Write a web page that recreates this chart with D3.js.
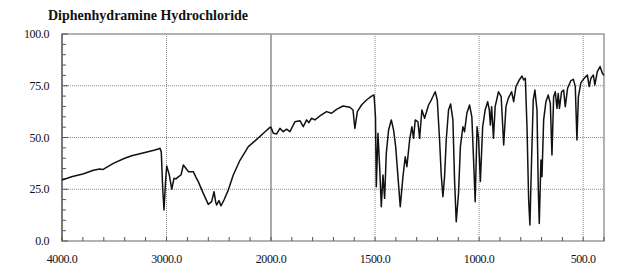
<!DOCTYPE html>
<html>
<head>
<meta charset="utf-8">
<script src="https://cdn.jsdelivr.net/npm/d3@7"></script>
<style>
  body { margin: 0; background: #fff; }
  text { font-family: "Liberation Serif", "DejaVu Serif", serif; fill: #111; }
</style>
</head>
<body>
<div id="spectrum"></div>
<script>
// Spectrum values (wavenumber in cm-1, transmittance in %)
const wavenumbers = [
    4000, 3900, 3800, 3700, 3640, 3610, 3509, 3400, 3333, 3206, 3120, 3078, 3062, 3050, 3036, 3024, 3010, 2998,
    2985, 2973, 2950, 2928, 2910, 2887, 2860, 2839, 2820, 2791, 2744, 2720, 2696, 2648, 2600, 2568, 2545, 2530,
    2520, 2498, 2479, 2450, 2409, 2361, 2297, 2217, 2137, 2057, 2010, 2000, 1989, 1973, 1957, 1941, 1925, 1909,
    1885, 1861, 1845, 1829, 1818, 1805, 1789, 1765, 1733, 1709, 1685, 1654, 1621, 1606, 1597, 1585, 1565, 1541,
    1517, 1505, 1498, 1494, 1486, 1478, 1470, 1462, 1454, 1446, 1435, 1422, 1411, 1401, 1390, 1379, 1366, 1355,
    1347, 1334, 1323, 1315, 1307, 1294, 1286, 1275, 1262, 1243, 1230, 1211, 1201, 1190, 1182, 1174, 1166, 1158,
    1147, 1137, 1126, 1118, 1110, 1099, 1090, 1078, 1070, 1059, 1046, 1035, 1026, 1019, 1010, 1003, 994, 983,
    971, 959, 951, 946, 940, 931, 923, 907, 894, 882, 871, 860, 844, 834, 823, 807, 794, 786, 778, 770, 762, 756,
    748, 740, 732, 722, 716, 711, 703, 698, 690, 679, 668, 658, 650, 642, 634, 626, 620, 614, 604, 594, 586, 575,
    559, 547, 538, 530, 523, 511, 495, 480, 471, 463, 451, 444, 432, 419, 408, 400
];
const transmittance = [
    29.5, 31.2, 32.4, 34.2, 34.8, 34.5, 37.5, 40, 41.2, 42.8, 43.8, 44.4, 44.8, 43, 25, 15, 28, 36.2,
    34, 31.9, 25.1, 30.3, 30, 31, 32, 36.7, 35.5, 33.5, 33.5, 31, 28.7, 23, 17.7, 19, 23.8, 19,
    17.4, 19.5, 17, 19.8, 24.6, 31.9, 39, 45.6, 49.1, 52.8, 54.9, 55, 52, 51.7, 54.4, 52.8, 54, 52.8,
    57.6, 58.1, 55.2, 58.5, 57.2, 59.3, 58.5, 60.4, 62.5, 61.7, 63.6, 65.2, 64.6, 63.3, 54.4, 62.5, 65.7, 68.1,
    70, 70.5, 60, 26.2, 52, 35.9, 16.6, 31.9, 20.6, 42.4, 53.6, 58.5, 53.6, 45.6, 31.1, 16.6, 31.1, 40.7,
    35.9, 48.8, 55.2, 49.6, 58.5, 57.6, 49.6, 63.3, 59.3, 65.7, 68.1, 72.1, 68.1, 48.8, 31.9, 21.4, 31.1, 48.8,
    63.3, 66.2, 58.5, 29.5, 9.3, 23, 45.6, 55.2, 52.8, 61.7, 65.7, 60, 37.5, 19, 55.2, 50, 28.7, 55.2,
    63.3, 67.3, 63.3, 56, 64.9, 49.6, 64.9, 72.1, 69.7, 46.4, 64.9, 68.9, 72.1, 67.3, 74.6, 77.8, 79.7, 77.8, 78.6, 55.2, 19.8, 7.7,
    39.1, 68.1, 72.9, 63.3, 26.2, 8.5, 39.1, 31.1, 58.5, 67.3, 70.5, 66.5, 41.5, 69.7, 72.1, 64.1, 71.3, 64.1, 72.1, 72.9, 64.9, 73.8,
    77.5, 78.1, 74.6, 48.8, 69.7, 76.5, 78.6, 80.2, 74.6, 78.6, 80.2, 75.4, 81.8, 84.3, 81, 80
];

// Axis tick values
const xMajorTicks = [4000, 3000, 2000, 1500, 1000, 500];
const xMinorTicks = d3.range(4000, 2000, -200).concat(d3.range(2000, 399, -100));
const yMajorTicks = [0, 25, 50, 75, 100];
const yMinorTicks = d3.range(0, 101, 5);

const width = 624, height = 280;
const margin = {top: 34, bottom: 39, left: 62, right: 20};

const svg = d3.select("#spectrum")
    .append("svg")
    .attr("width", width)
    .attr("height", height);

// The wavenumber axis changes scale at 2000 (twice as wide below it)
const xScale = d3.scaleLinear()
    .domain([4000, 2000, 400])
    .range([margin.left, 271, width - margin.right]);

const yScale = d3.scaleLinear()
    .domain([0, 100])
    .range([height - margin.bottom, margin.top]);

const plotTop = yScale(100), plotBottom = yScale(0);
const plotLeft = xScale(4000), plotRight = xScale(400);

// Dotted grid
svg.append("g")
    .selectAll("line")
    .data(yMajorTicks.filter(d => d > 0 && d < 100))
    .enter().append("line")
    .attr("x1", plotLeft).attr("x2", plotRight)
    .attr("y1", d => yScale(d)).attr("y2", d => yScale(d))
    .attr("stroke", "#888")
    .attr("stroke-dasharray", "1,1");

svg.append("g")
    .selectAll("line")
    .data(xMajorTicks.filter(d => d !== 4000 && d !== 2000))
    .enter().append("line")
    .attr("x1", d => xScale(d)).attr("x2", d => xScale(d))
    .attr("y1", plotTop).attr("y2", plotBottom)
    .attr("stroke", "#888")
    .attr("stroke-dasharray", "1,1");

// solid line where the scale changes
svg.append("line")
    .attr("x1", xScale(2000)).attr("x2", xScale(2000))
    .attr("y1", plotTop).attr("y2", plotBottom)
    .attr("stroke", "#555")
    .attr("stroke-width", 1);

// Frame
svg.append("rect")
    .attr("x", plotLeft)
    .attr("y", plotTop)
    .attr("width", plotRight - plotLeft)
    .attr("height", plotBottom - plotTop)
    .attr("fill", "none")
    .attr("stroke", "#999")
    .attr("stroke-width", 1.5);

// Y axis (ticks point inward)
const yAxis = svg.append("g")
    .attr("transform", `translate(${plotLeft},0)`);

yAxis.selectAll(".minor")
    .data(yMinorTicks)
    .enter().append("line")
    .attr("x1", 0).attr("x2", d => d % 25 === 0 ? 6 : 4)
    .attr("y1", d => yScale(d)).attr("y2", d => yScale(d))
    .attr("stroke", "#555");

yAxis.append("line")
    .attr("y1", plotTop).attr("y2", plotBottom)
    .attr("stroke", "#666")
    .attr("stroke-width", 1.5);

yAxis.selectAll("text")
    .data(yMajorTicks)
    .enter().append("text")
    .attr("x", -13)
    .attr("y", d => yScale(d))
    .attr("dy", "0.35em")
    .style("text-anchor", "end")
    .style("font-size", "12px")
    .style("letter-spacing", "-0.4px")
    .text(d => d3.format(".1f")(d));

// X axis (ticks point inward)
const xAxis = svg.append("g")
    .attr("transform", `translate(0,${plotBottom})`);

xAxis.selectAll("line")
    .data(xMinorTicks)
    .enter().append("line")
    .attr("x1", d => xScale(d)).attr("x2", d => xScale(d))
    .attr("y1", 0).attr("y2", -4)
    .attr("stroke", "#555");

xAxis.selectAll("text")
    .data(xMajorTicks)
    .enter().append("text")
    .attr("x", d => xScale(d))
    .attr("y", 22)
    .style("text-anchor", "middle")
    .style("font-size", "12px")
    .style("letter-spacing", "-0.4px")
    .text(d => d3.format(".1f")(d));

// Spectrum line
const line = d3.line()
    .x((d, i) => xScale(wavenumbers[i]))
    .y(d => yScale(d));

svg.append("path")
    .datum(transmittance)
    .attr("d", line)
    .attr("fill", "none")
    .attr("stroke", "#111")
    .attr("stroke-width", 1.5)
    .attr("stroke-linejoin", "round");

// Title
svg.append("text")
    .attr("x", 48)
    .attr("y", 20)
    .style("font-size", "14px")
    .style("font-weight", "bold")
    .text("Diphenhydramine Hydrochloride");
</script>
</body>
</html>
